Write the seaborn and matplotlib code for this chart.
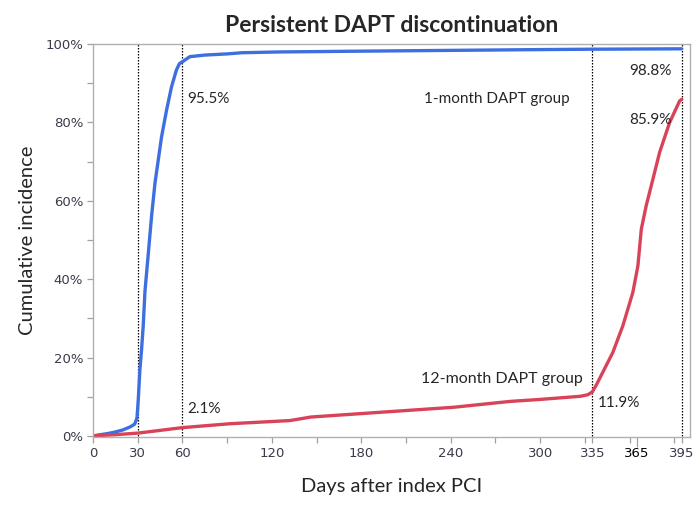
import numpy as np
import pandas as pd
import matplotlib
matplotlib.use("Agg")
import matplotlib.pyplot as plt
import seaborn as sns
from matplotlib.ticker import FixedLocator, PercentFormatter

# ---- data ----
blue_days = [0, 5, 10, 14, 20, 25, 28, 29.5, 30, 30.5, 31.5, 32.6, 33.7, 34.9, 37, 39.3,
             41.6, 43.8, 46, 49.4, 52.7, 56, 58, 60, 65, 75, 90, 100, 125, 180, 240,
             300, 335, 395]
blue_pct = [0, 0.3, 0.6, 0.9, 1.5, 2.3, 3.0, 4.5, 7, 10, 17, 22, 28, 37, 46, 56,
            64.5, 70.4, 76.3, 83.2, 89.1, 93.4, 95.0, 95.5, 96.8, 97.2, 97.5, 97.8, 98.0,
            98.2, 98.4, 98.6, 98.7, 98.8]

red_days = [0, 15, 30, 45, 60, 92, 132, 140, 146, 192, 242, 280, 300, 327, 332, 335,
            338, 342, 348.8, 355.5, 362.2, 365.6, 367.9, 371.2, 374.6, 380.2, 386.9, 393.6, 395]
red_pct = [0, 0.3, 0.7, 1.4, 2.1, 3.1, 3.9, 4.4, 4.8, 6.0, 7.3, 8.8, 9.3, 10.1, 10.5, 11.2,
           13.2, 16.2, 21.3, 28.1, 36.6, 43.4, 52.8, 58.8, 63.9, 72.4, 80.0, 85.5, 85.9]

groups = ["1-month DAPT group", "12-month DAPT group"]
colors = ["#3d6fe0", "#d9435a"]
ref_days = [30, 60, 335, 395]
major_ticks = [0, 30, 60, 120, 180, 240, 300, 335, 365, 395]
minor_ticks = [90, 150, 210, 270, 330, 360, 390]
y_ticks = [0, 20, 40, 60, 80, 100]

df = pd.concat([
    pd.DataFrame({"day": blue_days, "pct": blue_pct, "group": groups[0]}),
    pd.DataFrame({"day": red_days, "pct": red_pct, "group": groups[1]}),
])

sns.set_style("white")
plt.rcParams["font.family"] = ["Lato", "DejaVu Sans"]

fig = plt.figure(figsize=(6.99, 5.07), dpi=100)
ax = fig.add_axes([0.133, 0.138, 0.854, 0.775])

sns.lineplot(data=df, x="day", y="pct", hue="group", palette=colors,
             linewidth=2.4, legend=False, ax=ax, estimator=None, sort=False)

for d in ref_days:
    ax.plot([d, d], [0, 100], color="black", linestyle=(0, (1.2, 1.2)), linewidth=0.9, zorder=1)

ax.set_xlim(0, 400.5)
ax.set_ylim(-0.3, 100)

ax.xaxis.set_major_locator(FixedLocator(major_ticks))
ax.xaxis.set_minor_locator(FixedLocator(minor_ticks))
ax.yaxis.set_major_locator(FixedLocator(y_ticks))
ax.yaxis.set_minor_locator(FixedLocator([10, 30, 50, 70, 90]))
ax.yaxis.set_major_formatter(PercentFormatter(decimals=0))

ax.tick_params(axis="both", which="both", direction="out", color="#a0a0a0",
               length=4, width=0.9, bottom=True, left=True)
ax.tick_params(axis="both", which="major", labelsize=10, labelcolor="#3a3a4a", pad=3)
for lab in ax.get_xticklabels() + ax.get_yticklabels():
    lab.set_family(["DejaVu Sans"])
    lab.set_fontsize(9.5)
for t, lab in zip(ax.xaxis.get_major_ticks(), ax.get_xticklabels()):
    if lab.get_text() == "365":
        lab.set_color("black")
        t.tick1line.set_color("black")
        t.tick1line.set_markersize(7)

for s in ax.spines.values():
    s.set_color("#b0b0b0")
    s.set_linewidth(1.0)

ax.set_xlabel("Days after index PCI", fontsize=14.5, labelpad=13)
ax.set_ylabel("Cumulative incidence", fontsize=14.5, labelpad=7)
ax.set_title("Persistent DAPT discontinuation", fontsize=16.5, fontweight="bold", pad=9)

fs = 11
ax.text(63.5, 86.0, "95.5%", fontsize=fs, va="center", ha="left")
ax.text(320, 86.0, groups[0], fontsize=fs, va="center", ha="right")
ax.text(388.5, 93.1, "98.8%", fontsize=fs, va="center", ha="right")
ax.text(388.5, 80.6, "85.9%", fontsize=fs, va="center", ha="right")
ax.text(63.5, 6.9, "2.1%", fontsize=fs, va="center", ha="left")
ax.text(329, 14.5, groups[1], fontsize=11.5, va="center", ha="right")
ax.text(338.5, 8.3, "11.9%", fontsize=fs, va="center", ha="left")

fig.savefig("out.png", dpi=100)
